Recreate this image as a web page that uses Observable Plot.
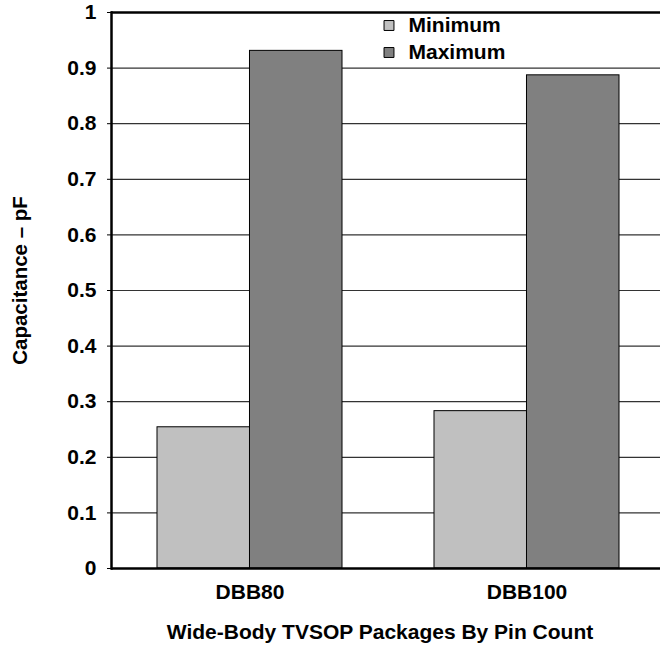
<!DOCTYPE html>
<html>
<head>
<meta charset="utf-8">
<script src="https://cdn.jsdelivr.net/npm/d3@7"></script>
<script src="https://cdn.jsdelivr.net/npm/@observablehq/plot@0.6"></script>
<style>
  html, body { margin: 0; padding: 0; background: #fff; }
  #chart svg { display: block; }
</style>
</head>
<body>
<div id="chart"></div>
<script>
const packages = ["DBB80", "DBB100"];
const minimum = [0.254, 0.283];
const maximum = [0.931, 0.887];
const series = ["Minimum", "Maximum"];
const seriesColors = ["#c0c0c0", "#808080"];
const yTicks = [0, 0.1, 0.2, 0.3, 0.4, 0.5, 0.6, 0.7, 0.8, 0.9, 1];
const yTickLabels = ["0", "0.1", "0.2", "0.3", "0.4", "0.5", "0.6", "0.7", "0.8", "0.9", "1"];
const yLabel = "Capacitance – pF";
const xLabel = "Wide-Body TVSOP Packages By Pin Count";

const data = packages.map((p, i) => ({package: p, Minimum: minimum[i], Maximum: maximum[i]}));

const W = 661, H = 646;
const mL = 111, mR = 1, mT = 12, mB = 78;
const padInner = 1 / 3, padOuter = 0.156, align = 0.532;
const step = (W - mL - mR) / (packages.length - padInner + 2 * padOuter);
const bw = step * (1 - padInner);
const font = "'Liberation Sans', Arial, Helvetica, sans-serif";
const fs = 21;

const legendMarks = series.flatMap((s, i) => [
  Plot.dot([s], {frameAnchor: "top-left", dx: 277.5, dy: 13 + i * 27, symbol: "square", r: 5.6,
    fill: seriesColors[i], stroke: "#000", strokeWidth: 1}),
  Plot.text([s], {frameAnchor: "top-left", dx: 297, dy: 13 + i * 27, text: d => d, textAnchor: "start",
    lineAnchor: "middle", fontSize: fs, fontWeight: "bold", fill: "#000"})
]);

const chart = Plot.plot({
  width: W,
  height: H,
  marginLeft: mL,
  marginRight: mR,
  marginTop: mT,
  marginBottom: mB,
  style: {fontFamily: font, fontSize: fs + "px", fontWeight: "bold", color: "#000", background: "#fff"},
  x: {domain: packages, paddingInner: padInner, paddingOuter: padOuter, align, label: null},
  y: {domain: [0, 1], label: null},
  marks: [
    Plot.ruleY(yTicks.filter(t => t > 0 && t < 1), {stroke: "#333", strokeWidth: 1.2}),
    Plot.barY(data, {x: "package", y: "Minimum", insetRight: bw / 2, fill: seriesColors[0], stroke: "#000", strokeWidth: 1}),
    Plot.barY(data, {x: "package", y: "Maximum", insetLeft: bw / 2, fill: seriesColors[1], stroke: "#000", strokeWidth: 1}),
    Plot.axisY({ticks: yTicks, tickFormat: (d, i) => yTickLabels[i], tickSize: 4, tickPadding: 11,
      fontSize: fs, fontWeight: "bold", label: null, stroke: "#000"}),
    Plot.axisX({tickSize: 0, tickPadding: 16, fontSize: fs, fontWeight: "bold", label: null}),
    Plot.ruleY([0], {stroke: "#000", strokeWidth: 2.5}),
    Plot.ruleY([1], {stroke: "#000", strokeWidth: 2.5}),
    Plot.frame({anchor: "left", stroke: "#000", strokeWidth: 2.5}),
    Plot.text([yLabel], {frameAnchor: "left", dx: -91, dy: -10, rotate: -90, text: d => d,
      textAnchor: "middle", lineAnchor: "middle", fontSize: 20.5, fontWeight: "bold", fill: "#000"}),
    Plot.text([xLabel], {frameAnchor: "bottom", dx: -6, dy: 64, text: d => d,
      textAnchor: "middle", lineAnchor: "middle", fontSize: fs, fontWeight: "bold", fill: "#000"}),
    ...legendMarks
  ]
});
document.getElementById("chart").appendChild(chart);
</script>
</body>
</html>
